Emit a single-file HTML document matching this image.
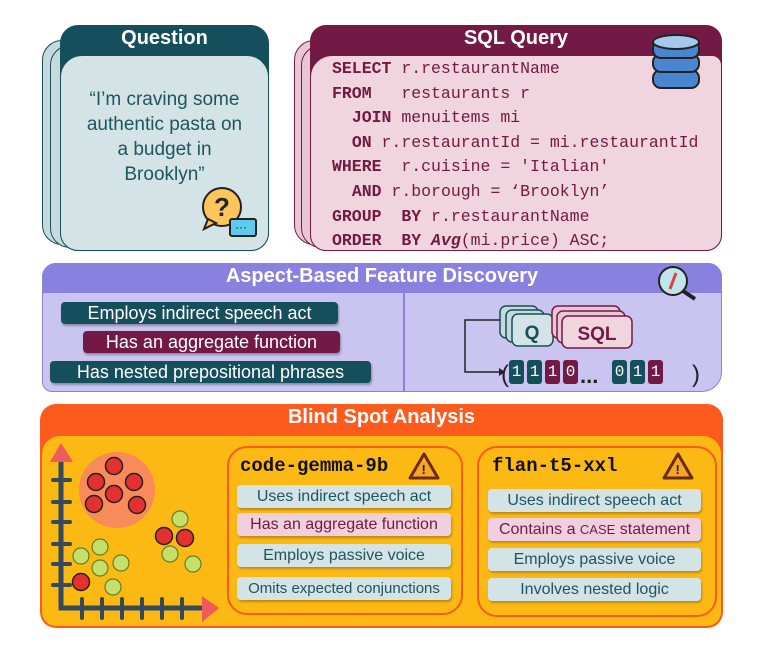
<!DOCTYPE html>
<html><head><meta charset="utf-8"><style>
body{margin:0;width:762px;height:648px;background:#fff;position:relative;overflow:hidden;font-family:"Liberation Sans",sans-serif}
.a{position:absolute;box-sizing:border-box}
.code{font-family:"Liberation Mono",monospace;font-size:16.5px;color:#721a45;white-space:pre;line-height:24.6px}
.k{font-weight:bold}
.chip{position:absolute;box-sizing:border-box;border-radius:4px;color:#fff;font-size:18px;text-align:center;line-height:22px;box-shadow:1px 2px 2px rgba(0,0,0,.3)}
.lc{position:absolute;box-sizing:border-box;border-radius:4px;font-size:16px;text-align:center;line-height:23px;box-shadow:1px 2px 2px rgba(0,0,0,.25);color:#1d5560;background:#d3e3e6}
.lc.p{background:#f0d0de;color:#721a45}
.bit{position:absolute;top:360px;width:15px;height:24px;border-radius:3px;color:#fff;font-family:"Liberation Mono",monospace;font-size:16px;line-height:24px;text-align:center}
</style></head><body>
<!-- Question -->
<div class="a" style="left:42px;top:40px;width:200px;height:205px;border:1.5px solid #154f5c;border-radius:20px;background:#c6dadd"></div>
<div class="a" style="left:50px;top:45px;width:205px;height:203px;border:1.5px solid #154f5c;border-radius:20px;background:#c6dadd"></div>
<div class="a" style="left:60px;top:25px;width:209px;height:226px;background:#154f5c;border-radius:18px"></div>
<div class="a" style="left:60px;top:55px;width:209px;height:196px;background:#d3e3e6;border-radius:22px 22px 18px 18px;border:1.5px solid #154f5c"></div>
<div class="a" style="left:60px;top:27px;width:209px;text-align:center;color:#fff;font-weight:bold;font-size:20px">Question</div>
<div class="a" style="left:60px;top:87px;width:209px;text-align:center;color:#1d5560;font-size:19px;line-height:25px">“I’m craving some<br>authentic pasta on<br>a budget in<br>Brooklyn”</div>
<svg class="a" style="left:200px;top:185px" width="60" height="60"><circle cx="22" cy="22" r="19" fill="#fdc55a" stroke="#222" stroke-width="2"/><path d="M8 34 L4 44 L16 38Z" fill="#fdc55a" stroke="#222" stroke-width="2"/><text x="14" y="31" font-size="26" font-weight="bold" fill="#222" font-family="Liberation Sans">?</text><rect x="30" y="34" width="26" height="17" rx="2" fill="#5fcaf0" stroke="#222" stroke-width="2"/><text x="35" y="46" font-size="12" fill="#222">···</text></svg>
<!-- SQL -->
<div class="a" style="left:294px;top:40px;width:200px;height:205px;border:1.5px solid #721a45;border-radius:20px;background:#e8c6d3"></div>
<div class="a" style="left:301px;top:45px;width:200px;height:203px;border:1.5px solid #721a45;border-radius:20px;background:#e8c6d3"></div>
<div class="a" style="left:310px;top:25px;width:412px;height:226px;background:#721a45;border-radius:16px"></div>
<div class="a" style="left:310px;top:55px;width:412px;height:196px;background:#f0d4de;border-radius:22px 10px 16px 16px;border:1.5px solid #721a45"></div>
<div class="a" style="left:310px;top:27px;width:412px;text-align:center;color:#fff;font-weight:bold;font-size:20px">SQL Query</div>
<div class="a code" style="left:332px;top:57px"><span class="k">SELECT</span> r.restaurantName
<span class="k">FROM</span>   restaurants r
  <span class="k">JOIN</span> menuitems mi
  <span class="k">ON</span> r.restaurantId = mi.restaurantId
<span class="k">WHERE</span>  r.cuisine = 'Italian'
  <span class="k">AND</span> r.borough = ‘Brooklyn’
<span class="k">GROUP</span>  <span class="k">BY</span> r.restaurantName
<span class="k">ORDER</span>  <span class="k">BY</span> <i class="k">Avg</i>(mi.price) ASC;</div>
<svg class="a" style="left:650px;top:32px" width="52" height="62"><g stroke="#222" stroke-width="2" fill="#4a86d0"><rect x="3" y="38" width="46" height="18" rx="8"/><rect x="3" y="22" width="46" height="18" rx="8"/><rect x="3" y="8" width="46" height="18" rx="8"/><ellipse cx="26" cy="10" rx="23" ry="7" fill="#a7c8ee"/></g></svg>
<!-- Aspect -->
<div class="a" style="left:42px;top:263px;width:680px;height:129px;background:#c9c5f0;border:1.5px solid #8a80e0;border-radius:14px 14px 20px 10px"></div>
<div class="a" style="left:42px;top:263px;width:680px;height:30px;background:#8a80e0;border-radius:14px 14px 0 0"></div>
<div class="a" style="left:42px;top:265px;width:680px;text-align:center;color:#fff;font-weight:bold;font-size:20px">Aspect-Based Feature Discovery</div>
<div class="a" style="left:403px;top:293px;width:1.5px;height:99px;background:#8a80e0"></div>
<svg class="a" style="left:655px;top:264px" width="52" height="38"><circle cx="18" cy="17" r="14" fill="#bfe6ea" stroke="#222" stroke-width="2"/><path d="M21 9 L15 25" stroke="#e04040" stroke-width="3"/><line x1="28" y1="27" x2="40" y2="35" stroke="#222" stroke-width="4"/></svg>
<div class="chip" style="left:61px;top:302px;width:277px;background:#154f5c">Employs indirect speech act</div>
<div class="chip" style="left:83px;top:331px;width:257px;background:#721a45">Has an aggregate function</div>
<div class="chip" style="left:50px;top:361px;width:321px;background:#154f5c">Has nested prepositional phrases</div>
<svg class="a" style="left:455px;top:300px" width="260" height="92">
<path d="M45 20 H10 V72 H44" fill="none" stroke="#222" stroke-width="1.5"/><path d="M44 68 L50 72 L44 76Z" fill="#222"/>
<g stroke="#154f5c" stroke-width="1.5" fill="#c6dadd"><rect x="45" y="6" width="38" height="32" rx="6"/><rect x="51" y="10" width="38" height="32" rx="6"/><rect x="57" y="14" width="41" height="32" rx="6" fill="#d3e3e6"/></g>
<g stroke="#721a45" stroke-width="1.5" fill="#e8c6d3"><rect x="97" y="6" width="68" height="32" rx="6"/><rect x="102" y="11" width="68" height="32" rx="6"/><rect x="107" y="16" width="70" height="32" rx="6" fill="#f0d4de"/></g>
<text x="77" y="39" text-anchor="middle" font-size="19" font-weight="bold" fill="#154f5c" font-family="Liberation Sans">Q</text>
<text x="142" y="40" text-anchor="middle" font-size="19" font-weight="bold" fill="#721a45" font-family="Liberation Sans">SQL</text>
<text x="46" y="82" font-size="24" fill="#222">(</text><text x="237" y="82" font-size="24" fill="#222">)</text>
<text x="125" y="83" font-size="22" font-weight="bold" fill="#222">...</text>
</svg>
<div class="bit" style="left:509px;background:#154f5c">1</div>
<div class="bit" style="left:527px;background:#154f5c">1</div>
<div class="bit" style="left:545px;background:#721a45">1</div>
<div class="bit" style="left:563px;background:#721a45">0</div>
<div class="bit" style="left:612px;background:#154f5c">0</div>
<div class="bit" style="left:630px;background:#154f5c">1</div>
<div class="bit" style="left:648px;background:#721a45">1</div>
<!-- Blind spot -->
<div class="a" style="left:40px;top:404px;width:683px;height:224px;background:#fd5a1e;border-radius:16px"></div>
<div class="a" style="left:42px;top:436px;width:679px;height:190px;background:#fdb913;border-radius:18px 18px 14px 14px"></div>
<div class="a" style="left:40px;top:406px;width:683px;text-align:center;color:#fff;font-weight:bold;font-size:20px">Blind Spot Analysis</div>
<svg class="a" style="left:40px;top:436px" width="190" height="190">
<circle cx="77" cy="54" r="38" fill="#f98a5a"/>
<g stroke="#34495e" stroke-width="5" stroke-linecap="round" fill="none"><path d="M21 22 V172 H168"/></g>
<g stroke="#34495e" stroke-width="4" stroke-linecap="round">
<line x1="13" y1="44" x2="30" y2="44"/><line x1="13" y1="66" x2="30" y2="66"/><line x1="13" y1="86" x2="30" y2="86"/><line x1="13" y1="108" x2="30" y2="108"/><line x1="13" y1="128" x2="30" y2="128"/><line x1="13" y1="149" x2="30" y2="149"/>
<line x1="42" y1="163" x2="42" y2="182"/><line x1="62" y1="163" x2="62" y2="182"/><line x1="82" y1="163" x2="82" y2="182"/><line x1="102" y1="163" x2="102" y2="182"/><line x1="122" y1="163" x2="122" y2="182"/><line x1="142" y1="163" x2="142" y2="182"/></g>
<path d="M10 26 L21 7 L33 26Z" fill="#ef5a5a"/><path d="M162 160 L179 172 L162 186Z" fill="#ef5a5a"/>
<g fill="#e53030" stroke="#222" stroke-width="1.5">
<circle cx="74" cy="30" r="8.5"/><circle cx="56" cy="46" r="8.5"/><circle cx="94" cy="46" r="8.5"/><circle cx="74" cy="58" r="8.5"/><circle cx="54" cy="68" r="8.5"/><circle cx="97" cy="69" r="8.5"/><circle cx="124" cy="100" r="8.5"/><circle cx="145" cy="102" r="8.5"/><circle cx="41" cy="146" r="8.5"/></g>
<g fill="#c5e06a" stroke="#6a7a20" stroke-width="1.2">
<circle cx="140" cy="83" r="8"/><circle cx="130" cy="118" r="8"/><circle cx="153" cy="128" r="8"/><circle cx="41" cy="120" r="8"/><circle cx="60" cy="111" r="8"/><circle cx="60" cy="132" r="8"/><circle cx="81" cy="127" r="8"/><circle cx="73" cy="151" r="8"/></g>
</svg>
<div class="a" style="left:227px;top:446px;width:236px;height:169px;border:2.5px solid #fd5a1e;border-radius:20px"></div>
<div class="a" style="left:477px;top:446px;width:240px;height:171px;border:2.5px solid #fd5a1e;border-radius:20px"></div>
<div class="a" style="left:240px;top:455px;font-family:'Liberation Mono',monospace;font-weight:bold;font-size:19px;color:#111">code-gemma-9b</div>
<div class="a" style="left:492px;top:455px;font-family:'Liberation Mono',monospace;font-weight:bold;font-size:19px;color:#111">flan-t5-xxl</div>
<svg class="a" style="left:407px;top:451px" width="34" height="30"><path d="M17 3 L31 27 H3Z" fill="#f6a623" stroke="#6b2a1a" stroke-width="3" stroke-linejoin="round"/><text x="14.5" y="23" font-size="13" font-weight="bold" fill="#222">!</text></svg>
<svg class="a" style="left:661px;top:451px" width="34" height="30"><path d="M17 3 L31 27 H3Z" fill="#f6a623" stroke="#6b2a1a" stroke-width="3" stroke-linejoin="round"/><text x="14.5" y="23" font-size="13" font-weight="bold" fill="#222">!</text></svg>
<div class="lc" style="left:237px;top:485px;width:214px">Uses indirect speech act</div>
<div class="lc p" style="left:237px;top:513px;width:214px">Has an aggregate function</div>
<div class="lc" style="left:237px;top:544px;width:214px">Employs passive voice</div>
<div class="lc" style="left:237px;top:577px;width:214px;font-size:15px">Omits expected conjunctions</div>
<div class="lc" style="left:488px;top:489px;width:213px">Uses indirect speech act</div>
<div class="lc p" style="left:488px;top:518px;width:213px">Contains a <span style="font-size:13px">CASE</span> statement</div>
<div class="lc" style="left:488px;top:548px;width:213px">Employs passive voice</div>
<div class="lc" style="left:488px;top:578px;width:213px">Involves nested logic</div>
</body></html>
